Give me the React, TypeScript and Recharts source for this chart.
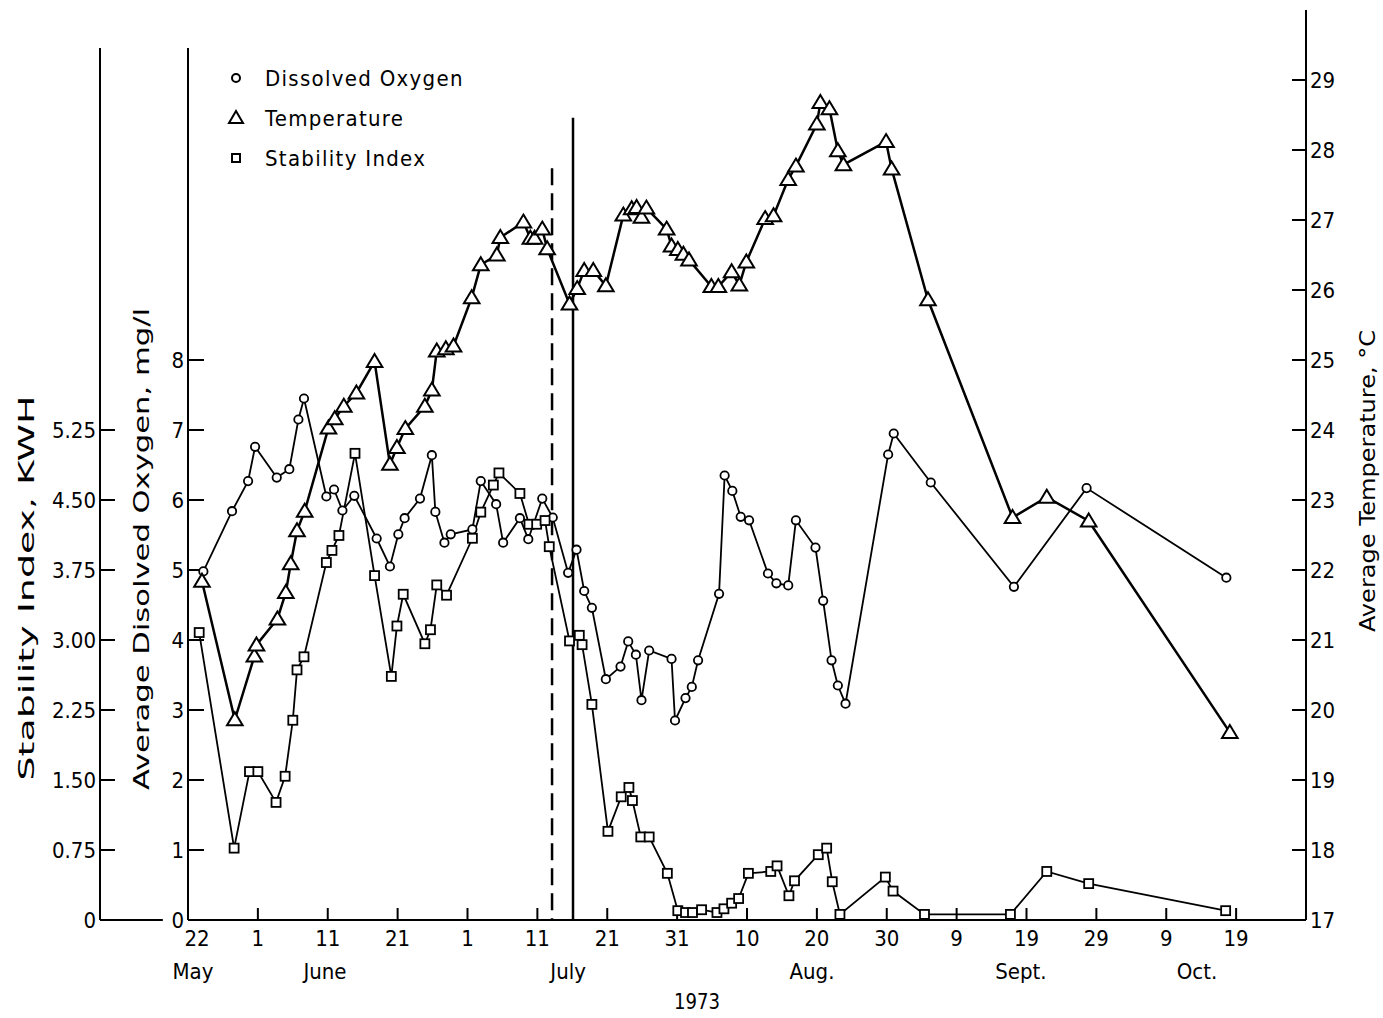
import React from "react";
import { LineChart, Line, XAxis, YAxis, ReferenceLine, Legend } from "recharts";

const FONT = '"DejaVu Sans Condensed", "Liberation Sans Narrow", "DejaVu Sans", sans-serif';

// x positions are days counted from 22 May 1973
const dayTicks = [0, 10, 20, 30, 40, 50, 60, 70, 80, 90, 100, 110, 120, 130, 140, 150];
const dayTickLabels = ["22", "1", "11", "21", "1", "11", "21", "31", "10", "20", "30", "9", "19", "29", "9", "19"];
const monthTicks = [0.7, 19.6, 54.4, 89.3, 119.2, 144.4];
const monthLabels = ["May", "June", "July", "Aug.", "Sept.", "Oct."];

const doTicks = [0, 1, 2, 3, 4, 5, 6, 7, 8];
const siTicks = [0, 0.75, 1.5, 2.25, 3, 3.75, 4.5, 5.25];
const tempTicks = [17, 18, 19, 20, 21, 22, 23, 24, 25, 26, 27, 28, 29];

const tempDays = [2.0, 6.7, 9.5, 9.8, 12.8, 14.0, 14.7, 15.6, 16.7, 20.1, 21.0, 22.3, 24.1, 26.7, 28.9, 29.9, 31.1, 33.9, 34.9, 35.6, 36.9, 38.0, 40.6, 41.9, 44.2, 44.7, 48.0, 49.0, 49.6, 50.7, 51.4, 54.6, 55.7, 56.7, 58.0, 59.8, 62.3, 63.5, 64.2, 64.9, 65.6, 68.5, 69.2, 70.1, 70.9, 71.7, 74.9, 75.9, 77.8, 78.9, 79.9, 82.6, 83.8, 85.9, 87.0, 90.0, 90.5, 91.8, 93.0, 93.8, 99.9, 100.7, 105.9, 118.0, 122.9, 128.9, 149.1];
const tempValues = [21.84, 19.86, 20.77, 20.93, 21.3, 21.68, 22.09, 22.56, 22.84, 24.03, 24.16, 24.34, 24.53, 24.98, 23.51, 23.75, 24.02, 24.34, 24.57, 25.13, 25.16, 25.2, 25.89, 26.36, 26.5, 26.75, 26.97, 26.74, 26.74, 26.87, 26.59, 25.8, 26.02, 26.28, 26.28, 26.06, 27.07, 27.16, 27.18, 27.04, 27.17, 26.87, 26.63, 26.58, 26.51, 26.43, 26.05, 26.05, 26.26, 26.07, 26.4, 27.02, 27.06, 27.58, 27.77, 28.37, 28.68, 28.59, 27.99, 27.79, 28.12, 27.73, 25.86, 22.75, 23.04, 22.7, 19.68];

const doDays = [2.2, 6.3, 8.6, 9.6, 12.7, 14.5, 15.8, 16.6, 19.8, 20.9, 22.1, 23.8, 27.0, 28.9, 30.1, 31.0, 33.2, 34.9, 35.4, 36.7, 37.6, 40.7, 41.9, 44.1, 45.1, 47.5, 48.7, 50.7, 52.2, 54.4, 55.6, 56.7, 57.8, 59.8, 61.9, 63.0, 64.1, 64.9, 66.0, 69.2, 69.7, 71.2, 72.1, 73.0, 76.0, 76.8, 77.9, 79.1, 80.3, 83.0, 84.2, 85.9, 87.0, 89.8, 90.9, 92.1, 93.0, 94.1, 100.2, 101.0, 106.3, 118.2, 128.6, 148.6];
const doValues = [4.98, 5.84, 6.27, 6.76, 6.32, 6.44, 7.15, 7.45, 6.05, 6.15, 5.85, 6.06, 5.45, 5.05, 5.51, 5.74, 6.02, 6.64, 5.83, 5.39, 5.51, 5.58, 6.27, 5.94, 5.39, 5.74, 5.44, 6.02, 5.75, 4.96, 5.29, 4.7, 4.46, 3.44, 3.62, 3.98, 3.79, 3.14, 3.85, 3.73, 2.85, 3.17, 3.33, 3.71, 4.66, 6.35, 6.13, 5.76, 5.71, 4.95, 4.81, 4.78, 5.71, 5.32, 4.56, 3.71, 3.35, 3.09, 6.65, 6.95, 6.25, 4.76, 6.17, 4.89];

const siDays = [1.6, 6.6, 8.8, 10.0, 12.6, 13.9, 15.0, 15.6, 16.6, 19.8, 20.6, 21.6, 23.9, 26.7, 29.1, 29.9, 30.8, 33.9, 34.7, 35.6, 37.0, 40.7, 41.9, 43.7, 44.5, 47.5, 48.8, 49.9, 51.1, 51.7, 54.6, 56.0, 56.4, 57.8, 60.1, 62.0, 63.1, 63.6, 64.8, 66.0, 68.6, 70.1, 71.2, 72.2, 73.5, 75.7, 76.7, 77.8, 78.8, 80.2, 83.4, 84.3, 86.0, 86.8, 90.2, 91.4, 92.2, 93.3, 99.8, 100.9, 105.4, 117.7, 122.9, 128.9, 148.5];
const siValues = [3.08, 0.77, 1.59, 1.59, 1.26, 1.54, 2.14, 2.68, 2.82, 3.83, 3.96, 4.12, 5.0, 3.69, 2.61, 3.15, 3.49, 2.96, 3.11, 3.59, 3.48, 4.09, 4.37, 4.66, 4.79, 4.57, 4.24, 4.24, 4.28, 4.0, 2.99, 3.05, 2.95, 2.31, 0.95, 1.32, 1.42, 1.28, 0.89, 0.89, 0.5, 0.1, 0.08, 0.08, 0.11, 0.08, 0.12, 0.18, 0.23, 0.5, 0.52, 0.58, 0.26, 0.42, 0.7, 0.77, 0.41, 0.06, 0.46, 0.31, 0.06, 0.06, 0.52, 0.39, 0.1];

// the two vertical marks near mid July (day, top in deg C)
const dashedMark = { day: 52.1, top: 27.74 };
const solidMark = { day: 55.1, top: 28.46 };

const toPoints = (days: number[], vals: number[]) => days.map((d, i) => ({ day: d, v: vals[i] }));
const doData = toPoints(doDays, doValues);
const tempData = toPoints(tempDays, tempValues);
const siData = toPoints(siDays, siValues);
const monthData = monthTicks.map((p, i) => ({ pos: p, name: monthLabels[i] }));

const ink = "#000";
const tickStyle = { fill: ink, fontSize: 22, fontFamily: FONT };
const tickLine = { stroke: ink, strokeWidth: 2 };

function CircleDot(p: any) {
  if (p.cx == null || p.cy == null) return null;
  return <circle key={`c${p.index}`} cx={p.cx} cy={p.cy} r={4.2} fill="#fff" stroke={ink} strokeWidth={1.8} />;
}

function TriangleDot(p: any) {
  if (p.cx == null || p.cy == null) return null;
  const { cx, cy } = p;
  const d = `M${cx},${cy - 7.5} L${cx + 7.8},${cy + 5.5} L${cx - 7.8},${cy + 5.5} Z`;
  return <path key={`t${p.index}`} d={d} fill="#fff" stroke={ink} strokeWidth={2} strokeLinejoin="miter" />;
}

function SquareDot(p: any) {
  if (p.cx == null || p.cy == null) return null;
  return <rect key={`s${p.index}`} x={p.cx - 4.5} y={p.cy - 4.5} width={9} height={9} fill="#fff" stroke={ink} strokeWidth={1.8} />;
}

// day-of-month labels; the first one sits a little right of its tick, as in the original
function DayTick(p: any) {
  const v = p.payload?.value;
  const label = dayTickLabels[dayTicks.indexOf(v)];
  const dx = v === 0 ? 9 : 0;
  return (
    <text x={p.x + dx} y={p.y} dy="0.71em" textAnchor="middle" fontSize={22} fontFamily={FONT} fill={ink}>
      {label}
    </text>
  );
}

function AxisTitle({ cx, cy, len, text, rotate = true }: any) {
  return (
    <text
      x={cx}
      y={cy}
      transform={rotate ? `rotate(-90 ${cx} ${cy})` : undefined}
      textAnchor="middle"
      dominantBaseline="central"
      textLength={len}
      lengthAdjust="spacingAndGlyphs"
      fontSize={22}
      fontFamily={FONT}
      fill={ink}
    >
      {text}
    </text>
  );
}

const legendItems = [
  { name: "Dissolved Oxygen", shape: "circle" },
  { name: "Temperature", shape: "triangle" },
  { name: "Stability Index", shape: "square" },
];

function LegendIcon({ shape }: { shape: string }) {
  return (
    <svg width={28} height={20} style={{ flex: "none" }}>
      {shape === "circle" && <circle cx={14} cy={10} r={4} fill="#fff" stroke={ink} strokeWidth={2} />}
      {shape === "triangle" && <path d="M14,3 L21,15 L7,15 Z" fill="#fff" stroke={ink} strokeWidth={2} />}
      {shape === "square" && <rect x={10} y={6} width={8} height={8} fill="#fff" stroke={ink} strokeWidth={2} />}
    </svg>
  );
}

function LegendBox() {
  return (
    <div style={{ fontFamily: FONT, fontSize: 22, letterSpacing: 1.3, color: ink }}>
      {legendItems.map((it) => (
        <div key={it.name} style={{ display: "flex", alignItems: "center", height: 40 }}>
          <LegendIcon shape={it.shape} />
          <span style={{ marginLeft: 15 }}>{it.name}</span>
        </div>
      ))}
    </div>
  );
}

export default function App() {
  return (
    <div style={{ position: "absolute", left: 0, top: 0, width: 1383, height: 1018, background: "#fff" }}>
      <LineChart width={1383} height={1018} data={monthData} margin={{ top: 10, right: 0, bottom: 0, left: 10 }}>
        <XAxis
          xAxisId="day"
          dataKey="day"
          type="number"
          domain={[0, 160]}
          ticks={dayTicks}
          interval={0}
          allowDataOverflow
          height={40}
          tickSize={-12}
          tickMargin={22}
          axisLine={{ stroke: ink, strokeWidth: 2 }}
          tickLine={tickLine}
          tick={<DayTick />}
        />
        <XAxis
          xAxisId="month"
          dataKey="pos"
          type="number"
          domain={[0, 160]}
          ticks={monthTicks}
          interval={0}
          allowDataOverflow
          tickFormatter={(v: number) => monthLabels[monthTicks.indexOf(v)]}
          height={58}
          tickSize={0}
          tickMargin={3}
          axisLine={false}
          tickLine={false}
          tick={tickStyle}
          label={<AxisTitle cx={697} cy={1001} len={46} text="1973" rotate={false} />}
        />
        <YAxis
          yAxisId="do"
          type="number"
          domain={[0, 13]}
          ticks={doTicks}
          interval={0}
          allowDataOverflow
          width={88}
          tickSize={-16}
          tickMargin={20}
          axisLine={{ stroke: ink, strokeWidth: 2, strokeDasharray: "0 38 2000" }}
          tickLine={tickLine}
          tick={tickStyle}
          label={<AxisTitle cx={141} cy={549} len={482} text="Average Disolved Oxygen, mg/l" />}
        />
        <YAxis
          yAxisId="si"
          type="number"
          domain={[0, 9.75]}
          ticks={siTicks}
          interval={0}
          allowDataOverflow
          width={90}
          tickSize={-15}
          tickMargin={19}
          tickFormatter={(v: number) => (v === 0 ? "0" : v.toFixed(2))}
          axisLine={{ stroke: ink, strokeWidth: 2, strokeDasharray: "0 38 2000" }}
          tickLine={tickLine}
          tick={tickStyle}
          label={<AxisTitle cx={26} cy={588} len={385} text="Stability Index, KWH" />}
        />
        <YAxis
          yAxisId="temp"
          orientation="right"
          type="number"
          domain={[17, 30]}
          ticks={tempTicks}
          interval={0}
          allowDataOverflow
          width={77}
          tickSize={-14}
          tickMargin={18}
          axisLine={{ stroke: ink, strokeWidth: 2 }}
          tickLine={tickLine}
          tick={tickStyle}
          label={<AxisTitle cx={1367} cy={481} len={302} text="Average Temperature, °C" />}
        />

        <ReferenceLine
          xAxisId="day"
          yAxisId="do"
          segment={[{ x: -12.6, y: 0 }, { x: -3.6, y: 0 }]}
          stroke={ink}
          strokeWidth={2}
          ifOverflow="visible"
        />
        <ReferenceLine
          xAxisId="day"
          yAxisId="temp"
          segment={[{ x: dashedMark.day, y: dashedMark.top }, { x: dashedMark.day, y: 17 }]}
          stroke={ink}
          strokeWidth={2.5}
          strokeDasharray="17 8"
          ifOverflow="visible"
        />
        <ReferenceLine
          xAxisId="day"
          yAxisId="temp"
          segment={[{ x: solidMark.day, y: solidMark.top }, { x: solidMark.day, y: 17 }]}
          stroke={ink}
          strokeWidth={2.5}
          ifOverflow="visible"
        />

        <Line
          xAxisId="day"
          yAxisId="do"
          data={doData}
          dataKey="v"
          name="Dissolved Oxygen"
          type="linear"
          stroke={ink}
          strokeWidth={1.8}
          dot={CircleDot}
          activeDot={false}
          isAnimationActive={false}
        />
        <Line
          xAxisId="day"
          yAxisId="temp"
          data={tempData}
          dataKey="v"
          name="Temperature"
          type="linear"
          stroke={ink}
          strokeWidth={2.5}
          dot={TriangleDot}
          activeDot={false}
          isAnimationActive={false}
        />
        <Line
          xAxisId="day"
          yAxisId="si"
          data={siData}
          dataKey="v"
          name="Stability Index"
          type="linear"
          stroke={ink}
          strokeWidth={1.8}
          dot={SquareDot}
          activeDot={false}
          isAnimationActive={false}
        />

        <Legend
          layout="vertical"
          align="center"
          verticalAlign="middle"
          wrapperStyle={{ left: 222, top: 58, width: 280 }}
          content={() => <LegendBox />}
        />
      </LineChart>
    </div>
  );
}
